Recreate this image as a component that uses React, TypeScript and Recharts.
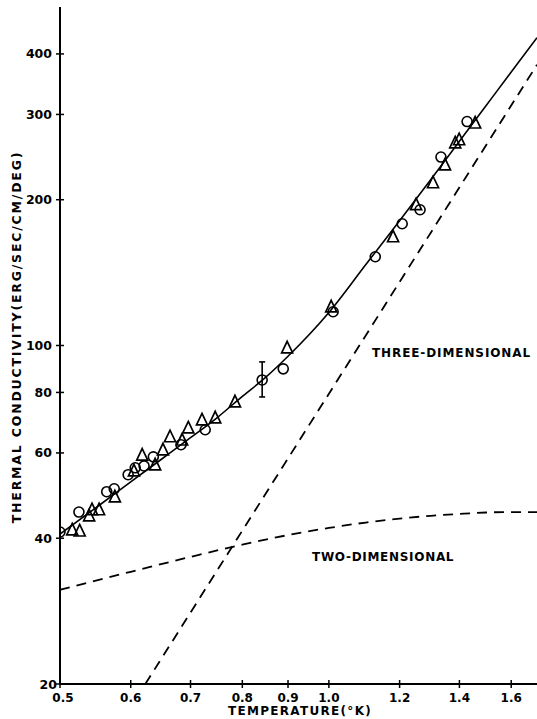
import {
    ComposedChart,
    Line,
    Scatter,
    ErrorBar,
    XAxis,
    YAxis
} from 'recharts';

// axis ticks
const tempTicks = [0.5, 0.6, 0.7, 0.8, 0.9, 1.0, 1.2, 1.4, 1.6];
const condTicks = [20, 40, 60, 80, 100, 200, 300, 400];

// smooth fitted curve (solid)
const curveT = [0.5, 0.55, 0.6, 0.65, 0.7, 0.75, 0.8, 0.85, 0.9, 1.0, 1.1, 1.2, 1.3, 1.4, 1.5, 1.6, 1.71];
const curveK = [40.8, 46.4, 52.3, 58.3, 64.5, 71, 78.5, 86, 95, 117, 147, 181, 220, 264, 313, 367, 432];

// two-dimensional prediction (dashed)
const twoDimT = [0.5, 0.6, 0.7, 0.8, 0.9, 1.0, 1.1, 1.2, 1.3, 1.4, 1.5, 1.6, 1.71];
const twoDimK = [31.3, 34.1, 36.6, 38.8, 40.6, 42.0, 43.1, 43.9, 44.5, 44.9, 45.2, 45.3, 45.3];

// three-dimensional prediction (dashed, straight on log-log)
const threeDimT = [0.623, 1.71];
const threeDimK = [20, 380];

// measured points, circles
const circleT = [0.5, 0.525, 0.564, 0.575, 0.596, 0.607, 0.621, 0.636, 0.683, 0.727, 0.889, 1.011, 1.127, 1.208, 1.265, 1.335, 1.428];
const circleK = [41.2, 45.3, 49.9, 50.6, 54.1, 55.9, 56.4, 58.9, 62.4, 67.0, 89.5, 117.4, 152.5, 178.4, 190.7, 245, 290];

// measured points, triangles
const triT = [0.516, 0.526, 0.539, 0.543, 0.553, 0.576, 0.605, 0.618, 0.639, 0.652, 0.664, 0.685, 0.696, 0.721, 0.746, 0.785, 0.898, 1.006, 1.18, 1.252, 1.308, 1.349, 1.385, 1.399, 1.458];
const triK = [41.6, 41.4, 44.5, 45.8, 45.8, 48.7, 55.1, 59.4, 56.7, 60.9, 64.8, 63.8, 67.6, 70.2, 70.9, 76.5, 98.9, 120.2, 167.7, 195.3, 216.8, 236, 262, 266, 288];

// point with error bar
const errT = [0.842];
const errK = [84.9];
const errLow = [78.3];
const errHigh = [92.5];

const zip = (ts: number[], ks: number[]) => ts.map((t, i) => ({ t, k: ks[i] }));

const curveData = zip(curveT, curveK);
const twoDimData = zip(twoDimT, twoDimK);
const threeDimData = zip(threeDimT, threeDimK);
const circleData = zip(circleT, circleK);
const triData = zip(triT, triK);
const errData = errT.map((t, i) => ({ t, k: errK[i], err: [errK[i] - errLow[i], errHigh[i] - errK[i]] }));

const FONT = '"DejaVu Sans", Arial, sans-serif';

const CircleMark = (props: any) => {
    const { cx, cy } = props;
    return <circle cx={cx} cy={cy} r={5} fill="none" stroke="#000" strokeWidth={1.6} />;
};

const TriMark = (props: any) => {
    const { cx, cy } = props;
    return (
        <path
            d={`M${cx},${cy - 6.5} L${cx + 5.5},${cy + 5} L${cx - 5.5},${cy + 5} Z`}
            fill="none"
            stroke="#000"
            strokeWidth={1.7}
            strokeLinejoin="miter"
        />
    );
};

const YTick = (props: any) => {
    const { x, y, payload } = props;
    const ax = x + 8;
    const v = payload.value;
    return (
        <g>
            <line x1={ax - 4} x2={ax + 4} y1={y} y2={y} stroke="#000" strokeWidth={1.5} />
            <text
                x={v === 20 ? x + 5 : x}
                y={y}
                dy={4.5}
                textAnchor="end"
                fontFamily={FONT}
                fontWeight="bold"
                fontSize={12.5}
                fill="#000"
            >
                {v}
            </text>
        </g>
    );
};

const XTick = (props: any) => {
    const { x, y, payload } = props;
    const ay = y - 8;
    const v = payload.value;
    return (
        <g>
            <line x1={x} x2={x} y1={ay - 4} y2={ay + 4} stroke="#000" strokeWidth={1.5} />
            <text
                x={v === 0.5 ? x + 3 : x}
                y={y + 10}
                textAnchor="middle"
                fontFamily={FONT}
                fontWeight="bold"
                fontSize={12}
                fill="#000"
            >
                {v.toFixed(1)}
            </text>
        </g>
    );
};

const textStyle = {
    fontFamily: FONT,
    fontWeight: 'bold' as const,
    fontSize: 12,
    fill: '#000'
};

function App() {
    return (
        <div style={{ position: 'absolute', left: 0, top: 0, background: '#fff' }}>
            <ComposedChart
                width={537}
                height={719}
                margin={{ top: 7, right: 0, bottom: 0, left: 0 }}
            >
                <XAxis
                    dataKey="t"
                    type="number"
                    scale="log"
                    domain={[0.5, 1.71]}
                    allowDataOverflow
                    ticks={tempTicks}
                    tick={<XTick />}
                    tickLine={false}
                    axisLine={{ stroke: '#000', strokeWidth: 2 }}
                    height={35}
                    interval={0}
                />
                <YAxis
                    dataKey="k"
                    type="number"
                    scale="log"
                    domain={[20, 500]}
                    allowDataOverflow
                    ticks={condTicks}
                    tick={<YTick />}
                    tickLine={false}
                    axisLine={{ stroke: '#000', strokeWidth: 2 }}
                    width={60}
                    interval={0}
                />
                <Line
                    data={threeDimData}
                    dataKey="k"
                    type="linear"
                    stroke="#000"
                    strokeWidth={1.8}
                    strokeDasharray="10 7"
                    dot={false}
                    isAnimationActive={false}
                />
                <Line
                    data={twoDimData}
                    dataKey="k"
                    type="monotone"
                    stroke="#000"
                    strokeWidth={1.8}
                    strokeDasharray="10 7"
                    dot={false}
                    isAnimationActive={false}
                />
                <Line
                    data={curveData}
                    dataKey="k"
                    type="monotone"
                    stroke="#000"
                    strokeWidth={1.6}
                    dot={false}
                    isAnimationActive={false}
                />
                <Scatter
                    data={errData}
                    dataKey="k"
                    shape={<CircleMark />}
                    isAnimationActive={false}
                >
                    <ErrorBar dataKey="err" direction="y" width={3} stroke="#000" strokeWidth={1.6} />
                </Scatter>
                <Scatter
                    data={circleData}
                    dataKey="k"
                    shape={<CircleMark />}
                    isAnimationActive={false}
                />
                <Scatter
                    data={triData}
                    dataKey="k"
                    shape={<TriMark />}
                    isAnimationActive={false}
                />
                <text x={372} y={357} {...textStyle} letterSpacing={0.9}>
                    THREE-DIMENSIONAL
                </text>
                <text x={312} y={561} {...textStyle} letterSpacing={0.7}>
                    TWO-DIMENSIONAL
                </text>
                <text x={300} y={715} textAnchor="middle" {...textStyle} letterSpacing={1.3}>
                    TEMPERATURE(°K)
                </text>
                <text
                    x={16}
                    y={337}
                    textAnchor="middle"
                    dominantBaseline="central"
                    transform="rotate(-90, 16, 337)"
                    {...textStyle}
                    fontSize={12.5}
                    letterSpacing={1.8}
                >
                    THERMAL CONDUCTIVITY(ERG/SEC/CM/DEG)
                </text>
            </ComposedChart>
        </div>
    );
}

export default App;
